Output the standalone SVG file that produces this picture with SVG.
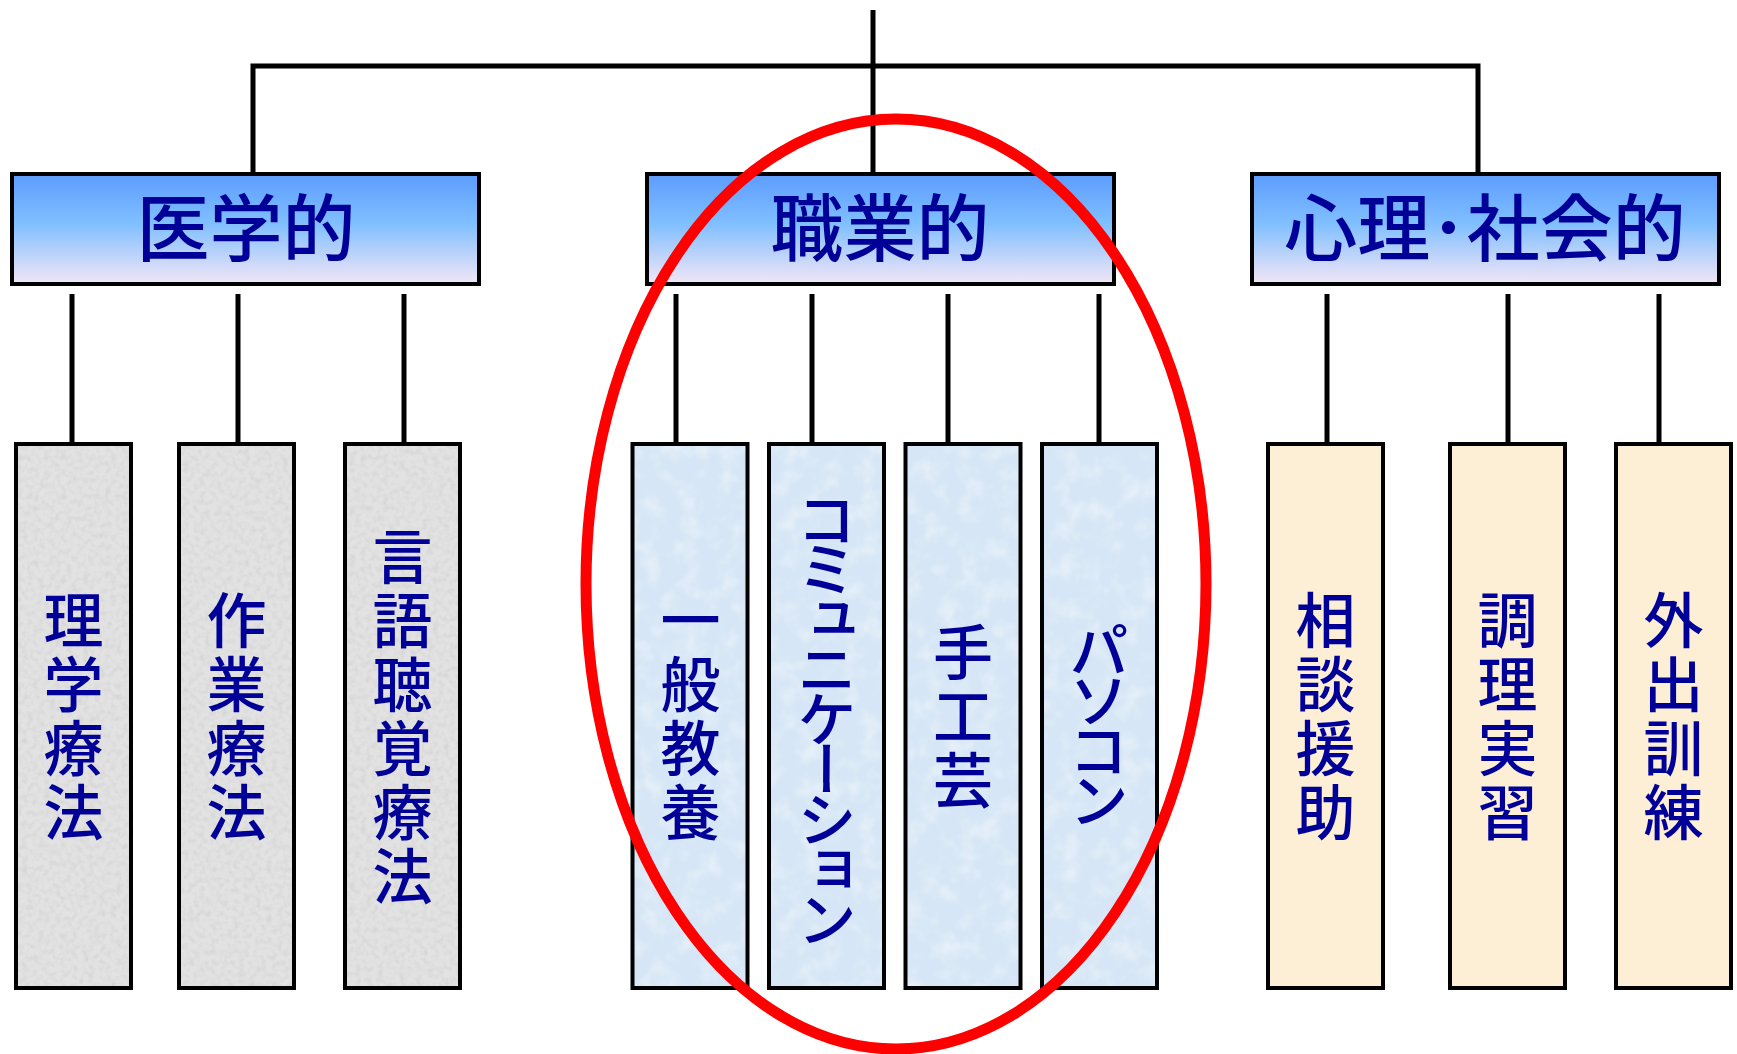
<svg xmlns="http://www.w3.org/2000/svg" width="1737" height="1054" viewBox="0 0 1737 1054">
<defs>
<linearGradient id="hdr" x1="0" y1="0" x2="0" y2="1">
<stop offset="0" stop-color="#5C9CFF"/>
<stop offset="0.45" stop-color="#80BFFF"/>
<stop offset="1" stop-color="#F3E6F6"/>
</linearGradient>
<filter id="tex" x="0" y="0" width="100%" height="100%">
<feTurbulence type="fractalNoise" baseFrequency="0.18" numOctaves="2" seed="3" result="n"/>
<feColorMatrix in="n" type="matrix" values="0 0 0 0 0.6  0 0 0 0 0.6  0 0 0 0 0.6  0 0 0 1.2 -0.5" result="g"/>
<feComposite in="g" in2="SourceGraphic" operator="in" result="gi"/>
<feMerge><feMergeNode in="SourceGraphic"/><feMergeNode in="gi"/></feMerge>
</filter>
<filter id="tex2" x="0" y="0" width="100%" height="100%">
<feTurbulence type="fractalNoise" baseFrequency="0.05" numOctaves="3" seed="7" result="n"/>
<feColorMatrix in="n" type="matrix" values="0 0 0 0 1  0 0 0 0 1  0 0 0 0 1  0 0 0 0.8 -0.35" result="g"/>
<feComposite in="g" in2="SourceGraphic" operator="in" result="gi"/>
<feMerge><feMergeNode in="SourceGraphic"/><feMergeNode in="gi"/></feMerge>
</filter>
</defs>
<style>
.hbox{fill:url(#hdr);stroke:#000;stroke-width:4}
.frame{fill:none;stroke:#000;stroke-width:4}
.gray{fill:#E2E2E2;filter:url(#tex)}
.blue{fill:#D6E6F6;filter:url(#tex2)}
.beige{fill:#FCEFD6}
.conn{stroke:#000;stroke-width:5;fill:none}
.ht{font-family:"Noto Sans CJK JP","Noto Sans CJK SC",sans-serif;font-size:73px;font-weight:500;fill:#000099;text-anchor:middle;dominant-baseline:central}
.vt{font-family:"Noto Sans CJK JP","Noto Sans CJK SC",sans-serif;font-size:60px;font-weight:500;fill:#000099;text-anchor:middle;writing-mode:vertical-rl;letter-spacing:4px}
.kt{letter-spacing:-10px}
</style>
<rect width="1737" height="1054" fill="#fff"/>
<g id="connectors">
<line class="conn" x1="873" y1="10" x2="873" y2="174"/>
<polyline class="conn" points="253,174 253,66 1478,66 1478,174"/>
<line class="conn" x1="72" y1="294" x2="72" y2="443"/>
<line class="conn" x1="238" y1="294" x2="238" y2="443"/>
<line class="conn" x1="404" y1="294" x2="404" y2="443"/>
<line class="conn" x1="676" y1="294" x2="676" y2="443"/>
<line class="conn" x1="812" y1="294" x2="812" y2="443"/>
<line class="conn" x1="948" y1="294" x2="948" y2="443"/>
<line class="conn" x1="1099" y1="294" x2="1099" y2="443"/>
<line class="conn" x1="1327" y1="294" x2="1327" y2="443"/>
<line class="conn" x1="1508" y1="294" x2="1508" y2="443"/>
<line class="conn" x1="1659" y1="294" x2="1659" y2="443"/>
</g>
<g id="n-igaku"><rect class="hbox" x="12" y="174" width="467" height="110"/><text class="ht" x="246" y="223">医学的</text></g>
<g id="n-shokugyo"><rect class="hbox" x="647" y="174" width="467" height="110"/><text class="ht" x="880" y="223">職業的</text></g>
<g id="n-shinri"><rect class="hbox" x="1252" y="174" width="467" height="110"/><text class="ht" x="1485" y="223">心理･社会的</text></g>
<g id="n-rigaku"><rect class="gray" x="16" y="444" width="115" height="544"/><rect class="frame" x="16" y="444" width="115" height="544"/><text class="vt" x="73.5" y="718">理学療法</text></g>
<g id="n-sagyo"><rect class="gray" x="179" y="444" width="115" height="544"/><rect class="frame" x="179" y="444" width="115" height="544"/><text class="vt" x="236.5" y="718">作業療法</text></g>
<g id="n-gengo"><rect class="gray" x="345" y="444" width="115" height="544"/><rect class="frame" x="345" y="444" width="115" height="544"/><text class="vt" x="402.5" y="718">言語聴覚療法</text></g>
<g id="n-ippan"><rect class="blue" x="632.5" y="444" width="115" height="544"/><rect class="frame" x="632.5" y="444" width="115" height="544"/><text class="vt" x="690.5" y="718">一般教養</text></g>
<g id="n-comm"><rect class="blue" x="769" y="444" width="115" height="544"/><rect class="frame" x="769" y="444" width="115" height="544"/><text class="vt kt" x="827" y="714">コミュニケーション</text></g>
<g id="n-shukou"><rect class="blue" x="905.5" y="444" width="115" height="544"/><rect class="frame" x="905.5" y="444" width="115" height="544"/><text class="vt" x="963" y="718">手工芸</text></g>
<g id="n-pasokon"><rect class="blue" x="1042" y="444" width="115" height="544"/><rect class="frame" x="1042" y="444" width="115" height="544"/><text class="vt kt" x="1099" y="720">パソコン</text></g>
<g id="n-soudan"><rect class="beige" x="1268" y="444" width="115" height="544"/><rect class="frame" x="1268" y="444" width="115" height="544"/><text class="vt" x="1325.5" y="718">相談援助</text></g>
<g id="n-chouri"><rect class="beige" x="1450" y="444" width="115" height="544"/><rect class="frame" x="1450" y="444" width="115" height="544"/><text class="vt" x="1507.5" y="718">調理実習</text></g>
<g id="n-gaishutsu"><rect class="beige" x="1616" y="444" width="115" height="544"/><rect class="frame" x="1616" y="444" width="115" height="544"/><text class="vt" x="1673.5" y="718">外出訓練</text></g>
<g id="highlight"><ellipse cx="896" cy="584" rx="310" ry="465" fill="none" stroke="#FF0000" stroke-width="11"/></g>
</svg>
